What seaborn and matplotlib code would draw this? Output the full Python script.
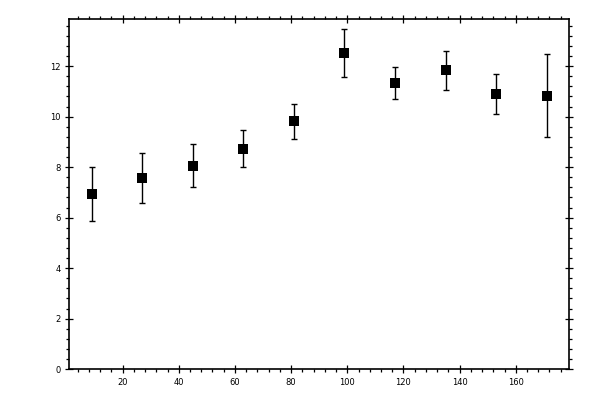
import matplotlib
matplotlib.use("Agg")
import matplotlib.pyplot as plt
from matplotlib.ticker import MultipleLocator
import seaborn as sns
import pandas as pd
import numpy as np

# data
x_vals = [9, 27, 45, 63, 81, 99, 117, 135, 153, 171]
y_vals = [6.94, 7.56, 8.04, 8.72, 9.82, 12.51, 11.33, 11.84, 10.89, 10.81]
y_low = [5.86, 6.57, 7.21, 8.00, 9.11, 11.56, 10.69, 11.05, 10.10, 9.19]
y_high = [8.00, 8.55, 8.92, 9.47, 10.50, 13.47, 11.96, 12.59, 11.70, 12.49]

df = pd.DataFrame({"x": x_vals, "y": y_vals})

sns.set_theme(style="white")
plt.rcParams['font.family'] = ['DejaVu Sans']

fig = plt.figure(figsize=(6, 4), dpi=100)
ax = fig.add_axes([0.115, 0.077, 0.834, 0.875])

yerr = np.array([np.array(y_vals) - np.array(y_low), np.array(y_high) - np.array(y_vals)])
ax.errorbar(x_vals, y_vals, yerr=yerr, fmt="none", ecolor="black",
            elinewidth=1.0, capsize=2.0, capthick=1.0, zorder=2)
sns.scatterplot(data=df, x="x", y="y", marker="s", s=58, color="black",
                edgecolor="black", linewidth=0, ax=ax, zorder=3)

ax.set_xlim(0.9, 179.1)
ax.set_ylim(0, 13.86)
ax.xaxis.set_major_locator(MultipleLocator(20))
ax.xaxis.set_minor_locator(MultipleLocator(4))
ax.yaxis.set_major_locator(MultipleLocator(2))
ax.yaxis.set_minor_locator(MultipleLocator(0.4))
ax.set_xlabel("")
ax.set_ylabel("")

for s in ax.spines.values():
    s.set_visible(True)
    s.set_color("black")
    s.set_linewidth(1.2)

ax.tick_params(which="major", direction="inout", length=6, width=0.9,
               colors="black", labelsize=6, top=True, right=True,
               bottom=True, left=True, pad=3)
ax.tick_params(which="minor", direction="out", length=2.5, width=0.9,
               colors="black", top=True, right=True, bottom=True, left=True)
ax.grid(False)

fig.savefig("out.png", dpi=100, facecolor="white")
